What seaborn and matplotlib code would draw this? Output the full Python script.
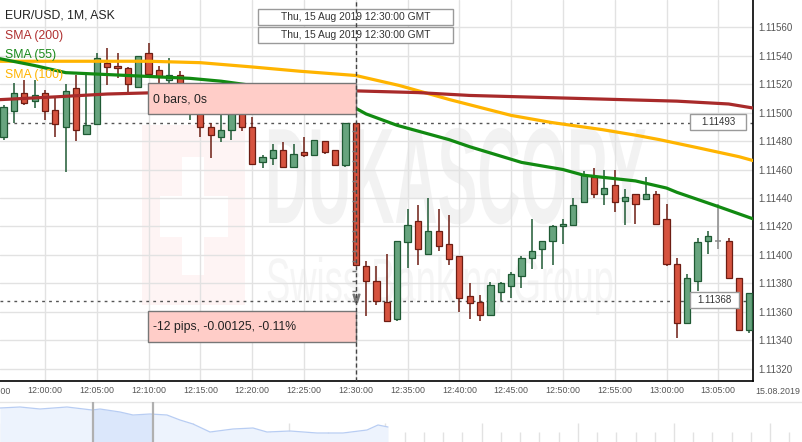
import numpy as np
import pandas as pd
import matplotlib
matplotlib.use("Agg")
import matplotlib.pyplot as plt
import seaborn as sns
from matplotlib.patches import Rectangle
from matplotlib.transforms import Affine2D
import matplotlib.patheffects as pe

# ---------------- data (EUR/USD, 1M, ASK, 15.08.2019, 11:56 .. 13:08) ----------------
times = pd.date_range("2019-08-15 11:56", "2019-08-15 13:08", freq="1min")

open_ = [1.11483, 1.11501, 1.11514, 1.11508, 1.11514, 1.11502, 1.11490, 1.11517, 1.11485, 1.11492,
         1.11535, 1.11533, 1.11531, 1.11518, 1.11542, 1.11530, 1.11523, 1.11526, 1.11502, 1.11503,
         1.11490, 1.11483, 1.11488, 1.11502, 1.11490, 1.11465, 1.11468, 1.11474, 1.11462, 1.11472,
         1.11470, 1.11480, 1.11474, 1.11463, 1.11493, 1.11392, 1.11382, 1.11367, 1.11355, 1.11409,
         1.11424, 1.11401, 1.11417, 1.11408, 1.11399, 1.11371, 1.11367, 1.11358, 1.11374, 1.11378,
         1.11385, 1.11398, 1.11404, 1.11410, 1.11420, 1.11421, 1.11437, 1.11455, 1.11443, 1.11449,
         1.11438, 1.11443, 1.11439, 1.11443, 1.11425, 1.11394, 1.11352, 1.11382, 1.11410, 1.11410,
         1.11410, 1.11384, 1.11347]
high = [1.11505, 1.11521, 1.11523, 1.11523, 1.11516, 1.11510, 1.11520, 1.11526, 1.11528, 1.11542,
        1.11545, 1.11542, 1.11532, 1.11540, 1.11549, 1.11533, 1.11538, 1.11529, 1.11514, 1.11506,
        1.11493, 1.11498, 1.11503, 1.11505, 1.11497, 1.11470, 1.11478, 1.11479, 1.11478, 1.11483,
        1.11481, 1.11480, 1.11474, 1.11493, 1.11493, 1.11396, 1.11392, 1.11401, 1.11410, 1.11432,
        1.11435, 1.11440, 1.11432, 1.11428, 1.11399, 1.11380, 1.11372, 1.11381, 1.11381, 1.11388,
        1.11399, 1.11425, 1.11410, 1.11421, 1.11425, 1.11440, 1.11459, 1.11461, 1.11460, 1.11460,
        1.11446, 1.11443, 1.11455, 1.11445, 1.11436, 1.11398, 1.11387, 1.11412, 1.11417, 1.11436,
        1.11412, 1.11384, 1.11373]
low = [1.11481, 1.11493, 1.11505, 1.11503, 1.11495, 1.11483, 1.11458, 1.11480, 1.11485, 1.11492,
       1.11519, 1.11524, 1.11514, 1.11518, 1.11525, 1.11517, 1.11521, 1.11505, 1.11495, 1.11483,
       1.11468, 1.11479, 1.11481, 1.11487, 1.11464, 1.11461, 1.11463, 1.11461, 1.11461, 1.11469,
       1.11470, 1.11471, 1.11463, 1.11462, 1.11393, 1.11357, 1.11365, 1.11353, 1.11354, 1.11391,
       1.11393, 1.11401, 1.11403, 1.11393, 1.11360, 1.11355, 1.11354, 1.11357, 1.11368, 1.11370,
       1.11377, 1.11390, 1.11390, 1.11393, 1.11408, 1.11421, 1.11437, 1.11440, 1.11435, 1.11430,
       1.11421, 1.11422, 1.11439, 1.11421, 1.11392, 1.11342, 1.11352, 1.11375, 1.11401, 1.11404,
       1.11384, 1.11347, 1.11345]
close = [1.11504, 1.11514, 1.11507, 1.11512, 1.11501, 1.11492, 1.11515, 1.11488, 1.11491, 1.11538,
         1.11532, 1.11531, 1.11520, 1.11540, 1.11527, 1.11525, 1.11526, 1.11510, 1.11510, 1.11490,
         1.11484, 1.11488, 1.11502, 1.11490, 1.11464, 1.11469, 1.11474, 1.11462, 1.11471, 1.11470,
         1.11481, 1.11472, 1.11463, 1.11493, 1.11393, 1.11382, 1.11368, 1.11354, 1.11410, 1.11421,
         1.11404, 1.11417, 1.11406, 1.11397, 1.11370, 1.11366, 1.11358, 1.11379, 1.11380, 1.11387,
         1.11398, 1.11403, 1.11410, 1.11420, 1.11422, 1.11435, 1.11456, 1.11443, 1.11447, 1.11437,
         1.11441, 1.11436, 1.11443, 1.11422, 1.11394, 1.11352, 1.11384, 1.11409, 1.11413, 1.11410,
         1.11384, 1.11347, 1.11373]

# moving averages (minutes after 11:56, value)
sma200_t = [-0.5, 5, 10, 15, 20, 25, 30, 35, 40, 45, 50, 55, 60, 65, 70, 72.5]
sma200 = [1.11509, 1.11511, 1.11513, 1.11514, 1.11515, 1.11516, 1.11516, 1.11515, 1.11514, 1.11512,
          1.11511, 1.11510, 1.11509, 1.11508, 1.11506, 1.11503]
sma55_t = [-0.5, 3, 6, 9, 12, 15, 18, 21, 24, 27, 30, 34, 35, 38, 43, 45, 50, 54, 56, 61, 64, 65, 67, 69, 72.5]
sma55 = [1.11538, 1.11533, 1.11528, 1.11527, 1.11526, 1.11525, 1.11524, 1.11522, 1.11519, 1.11514,
         1.11510, 1.11503, 1.11499, 1.11491, 1.11481, 1.11476, 1.11465, 1.11460, 1.11456, 1.11452,
         1.11447, 1.11444, 1.11439, 1.11434, 1.11425]
sma100_t = [-0.5, 9.3, 14, 19, 24, 28.6, 34, 38.2, 43.1, 49, 52.9, 57.8, 61.1, 63.3, 67.2, 71, 72.5]
sma100 = [1.11536, 1.11536, 1.11536, 1.11535, 1.11532, 1.11529, 1.11526, 1.11519, 1.11509, 1.11498,
          1.11493, 1.11488, 1.11484, 1.11481, 1.11475, 1.11469, 1.11466]

price_ticks = [1.11320, 1.11340, 1.11360, 1.11380, 1.11400, 1.11420, 1.11440, 1.11460,
               1.11480, 1.11500, 1.11520, 1.11540, 1.11560]
time_ticks = ["12:00", "12:05", "12:10", "12:15", "12:20", "12:25", "12:30",
              "12:35", "12:40", "12:45", "12:50", "12:55", "13:00", "13:05"]
ruler_from, ruler_to = 1.11493, 1.11368
cursor_time = "12:30"

# navigator overview (position, level)
nav_t = [0, 20, 40, 67, 92, 100, 120, 133, 150, 167, 180, 193, 210, 233, 253, 267, 290, 317, 343, 367, 378, 388]
nav_v = [34, 35, 33, 35, 32, 33, 30, 27, 28, 27, 22, 18, 10, 13, 14, 10, 11, 9, 9, 12, 17, 15]

# ---------------- styling ----------------
W, H = 803, 442
sns.set_theme(style="white")
plt.rcParams['font.family'] = ['Liberation Sans', 'DejaVu Sans']

G_FACE, G_EDGE = '#67a47e', '#1f5a34'
R_FACE, R_EDGE = '#d6533f', '#6d1d13'

fig = plt.figure(figsize=(W / 100, H / 100), dpi=100)
ax = fig.add_axes([0, (H - 381) / H, 753 / W, 381 / H])
PX = Affine2D().scale(1 / 100, -1 / 100).translate(0, H / 100) + fig.dpi_scale_trans

t0 = times[0]
def tmin(s):
    return (pd.Timestamp("2019-08-15 " + s) - t0).total_seconds() / 60

df = pd.DataFrame({"t": (times - t0).total_seconds() / 60, "o": open_, "h": high, "l": low, "c": close})

ax.set_xlim(-0.345, 72.35)
ax.set_ylim(1.1131154, 1.11579)

# grid
ax.set_axisbelow(True)
ax.grid(True, color='#e2e2e2', lw=1.0)

# watermark (vertically stretched text)
class Stretch(pe.AbstractPathEffect):
    def __init__(self, y0_px, sy):
        super().__init__()
        self.y0, self.sy = H - y0_px, sy
    def draw_path(self, renderer, gc, tpath, affine, rgbFace=None):
        aff = affine + Affine2D().translate(0, -self.y0).scale(1, self.sy).translate(0, self.y0)
        renderer.draw_path(gc, tpath, aff, rgbFace)

def pxrect(x0, y0, x1, y1, fc, ec='none', z=1, lw=1.0):
    r = Rectangle((x0, y0), x1 - x0, y1 - y0, transform=PX, facecolor=fc, edgecolor=ec,
                  lw=lw, zorder=z, clip_on=False)
    ax.add_patch(r)
    return r

pxrect(142, 125, 245, 305, '#fef4f4', z=0.3)
pxrect(182, 157, 204, 275, 'white', z=0.31)
pxrect(160, 196, 228, 237, 'white', z=0.31)
ax.text(265, 223, "DUKASCOPY", transform=PX, fontsize=43, fontweight='bold', color='#f2f2f2',
        ha='left', va='baseline', zorder=0.32, path_effects=[Stretch(223, 2.28)])
ax.text(266, 302, "Swiss Banking Group", transform=PX, fontsize=26.2, color='#f5f5f5',
        ha='left', va='baseline', zorder=0.32, path_effects=[Stretch(302, 1.72)])

# reference lines
ax.axhline(ruler_from, color='#555555', lw=1, ls=(0, (2, 3)), zorder=2.5)
ax.axhline(ruler_to, color='#555555', lw=1, ls=(0, (2, 3)), zorder=2.5)

# candles
up = df.c > df.o
dn = df.c < df.o
fl = df.c == df.o
for mask, col in [(up, G_EDGE), (dn, R_EDGE), (fl, '#8a8a8a')]:
    d = df[mask]
    ax.vlines(d.t, d.l, d.h, color=col, lw=1.1, zorder=3)
ax.bar(df.t[up], (df.c - df.o)[up], bottom=df.o[up], width=0.6, color=G_FACE,
       edgecolor=G_EDGE, lw=0.9, zorder=4)
ax.bar(df.t[dn], (df.o - df.c)[dn], bottom=df.c[dn], width=0.6, color=R_FACE,
       edgecolor=R_EDGE, lw=0.9, zorder=4)
d = df[fl]
ax.hlines(d.o, d.t - 0.3, d.t + 0.3, color='#8a8a8a', lw=1.1, zorder=4)

# SMAs
sns.lineplot(x=sma100_t, y=sma100, ax=ax, color='#ffb400', lw=2.3, zorder=5)
sns.lineplot(x=sma200_t, y=sma200, ax=ax, color='#a82a2a', lw=2.3, zorder=5)
sns.lineplot(x=sma55_t, y=sma55, ax=ax, color='#118a11', lw=2.3, zorder=5)

# ruler on the cursor candle
cx = tmin(cursor_time)
ry = np.arange(ruler_to, ruler_from + 1e-9, 0.00007)
ax.hlines(ry, cx - 0.36, cx + 0.05, color='#777777', lw=1, zorder=8)
ax.plot([cx], [ruler_to + 0.00002], marker='$\\vee$', ms=6, color='#777777', zorder=8)

# cursor line
ax.axvline(cx, color='#444444', lw=1, ls=(0, (3, 2)), zorder=9)

# measurement boxes
pxrect(148, 83, 356, 114, '#ffcdc8', '#777777', z=7)
ax.text(153, 99, "0 bars, 0s", transform=PX, fontsize=8.8, color='#222222', va='center', ha='left', zorder=7.5)
pxrect(148, 311, 356, 342, '#ffcdc8', '#777777', z=7)
ax.text(153, 327, "-12 pips, -0.00125, -0.11%", transform=PX, fontsize=8.8, color='#222222',
        va='center', ha='left', zorder=7.5)

# price labels on lines
for p, ypx, x1 in [(ruler_from, 122, 746), (ruler_to, 300, 739)]:
    pxrect(690, ypx - 8, x1, ypx + 8, 'white', '#9a9a9a', z=7)
    ax.text((690 + x1) / 2, ypx, f"{p:.5f}", transform=PX, fontsize=7, color='#333333', ha='center',
            va='center', zorder=7.5)

# date boxes
for yc in (17, 35):
    pxrect(258, yc - 8, 453, yc + 8, 'white', '#9a9a9a', z=8)
    ax.text(355.5, yc, "Thu, 15 Aug 2019 12:30:00 GMT", transform=PX, fontsize=7.4,
            color='#333333', ha='center', va='center', zorder=8.5)

# legend
ax.text(5, 16, "EUR/USD, 1M, ASK", transform=PX, fontsize=8.8, color='#222222', va='center', zorder=10)
ax.text(5, 36, "SMA (200)", transform=PX, fontsize=8.8, color='#b03030', va='center', zorder=10)
ax.text(5, 55, "SMA (55)", transform=PX, fontsize=8.8, color='#1a8a1a', va='center', zorder=10)
ax.text(5, 75, "SMA (100)", transform=PX, fontsize=8.8, color='#ffb400', va='center', zorder=10)

# axes
ax.yaxis.tick_right()
ax.set_yticks(price_ticks)
ax.set_yticklabels([f"{v:.5f}" for v in price_ticks])
ax.tick_params(axis='y', length=0, pad=3.8, labelsize=7, labelcolor='#555555')
ax.set_xticks([tmin(s) for s in time_ticks])
ax.set_xticklabels([s + ":00" for s in time_ticks])
ax.tick_params(axis='x', length=0, pad=3.5, labelsize=6.4, labelcolor='#555555')
fig.text(-6.8 / W, 1 - 391 / H, "11:55:00", fontsize=6.4, color='#555555', ha='center', va='center')
fig.text(778 / W, 1 - 391 / H, times[0].strftime("%d.%m.%Y"), fontsize=6.4, color='#555555',
         ha='center', va='center')
for s in ['left', 'top']:
    ax.spines[s].set_visible(False)
for s in ['right', 'bottom']:
    ax.spines[s].set_color('black')
    ax.spines[s].set_linewidth(1.2)

# navigator
nav = fig.add_axes([0, 0, 1, 40 / H])
nav.set_xlim(0, W)
nav.set_ylim(0, 40)
nav.fill_between(nav_t, nav_v, 0, color='#edf3fd', lw=0, zorder=1)
sel = nav.fill_between(nav_t, nav_v, 0, color='#dbe7fb', lw=0, zorder=1.5)
sel.set_clip_path(Rectangle((93, 0), 60, 40, transform=nav.transData))
nav.plot(nav_t, nav_v, color='#b8cdf3', lw=0.9, zorder=2)
nav.axvline(93, color='#b0b0b0', lw=1.6, zorder=3)
nav.axvline(153, color='#b0b0b0', lw=1.6, zorder=3)
nav.set_xticks(np.arange(0.6, W, 96.2))
nav.set_xticks(np.arange(0.6, W, 19.24), minor=True)
nav.tick_params(axis='x', which='major', direction='in', length=14, width=1, color='#e2e2e2',
                labelbottom=False, bottom=True)
nav.tick_params(axis='x', which='minor', direction='in', length=7, width=1, color='#e2e2e2',
                bottom=True)
nav.set_yticks([])
for s in ['left', 'right', 'bottom']:
    nav.spines[s].set_visible(False)
nav.spines['top'].set_color('#e6e6e6')
nav.spines['top'].set_linewidth(1)

fig.savefig("out.png", dpi=100)
